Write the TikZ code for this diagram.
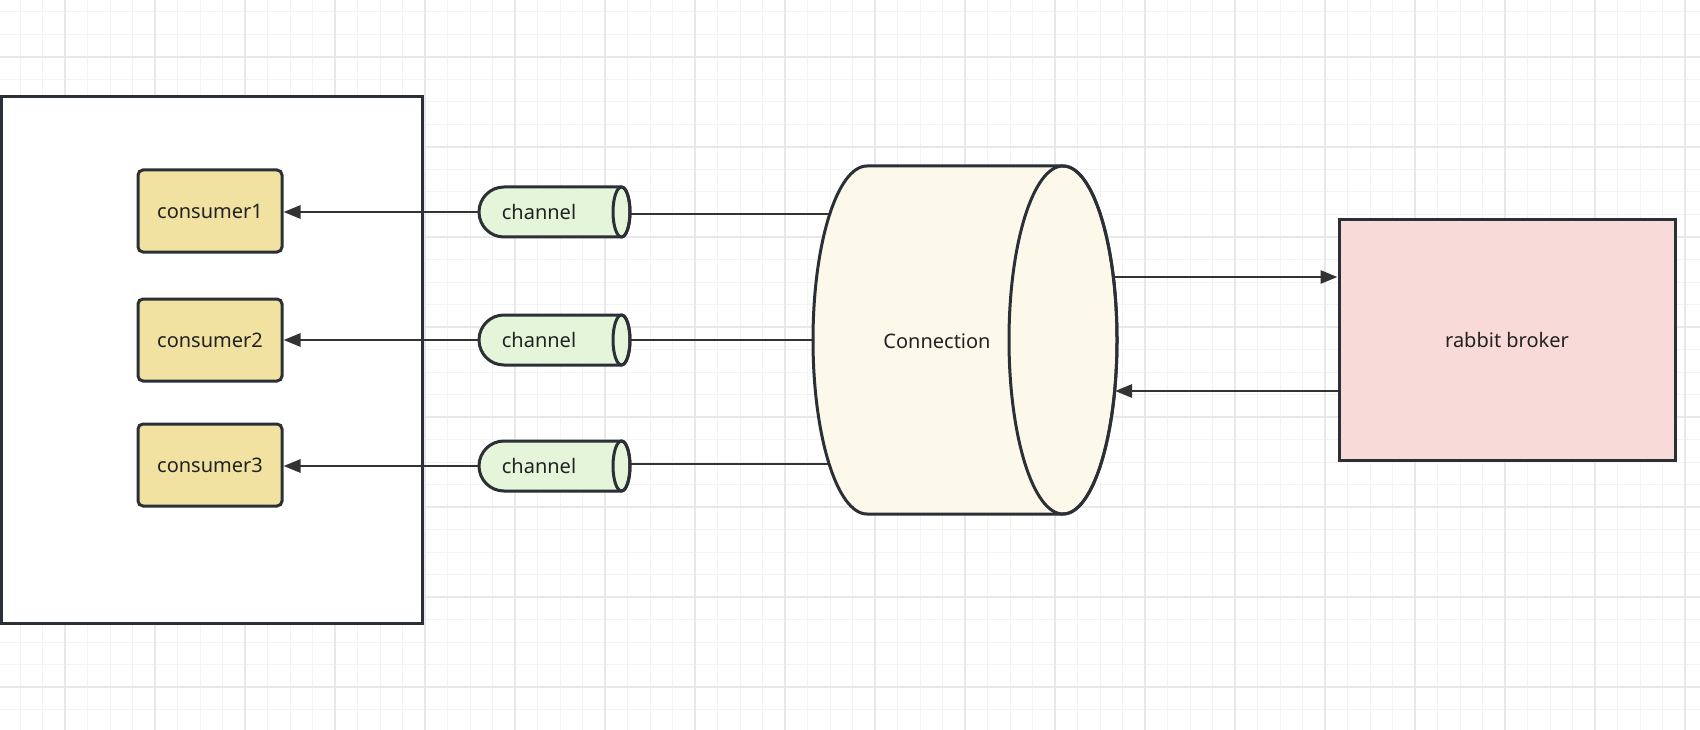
\documentclass[tikz,border=0pt]{standalone}
\usepackage{fontspec}
\setmainfont{Noto Sans}
\usetikzlibrary{arrows.meta,calc}
\pgfdeclarelayer{gridlayer}
\pgfdeclarelayer{backlayer}
\pgfsetlayers{gridlayer,backlayer,main}
\definecolor{edge}{HTML}{2B3036}
\definecolor{wire}{HTML}{333333}
\definecolor{consfill}{HTML}{F1E2A1}
\definecolor{chanfill}{HTML}{E4F5DA}
\definecolor{connfill}{HTML}{FCF8EA}
\definecolor{brokfill}{HTML}{F8DAD9}
\definecolor{gridminor}{HTML}{F3F3F3}
\definecolor{gridmajor}{HTML}{E8E8E8}
\definecolor{txt}{HTML}{222222}
\begin{document}
\begin{tikzpicture}[x=1pt,y=-1pt,
  every node/.style={font=\fontsize{20}{24}\selectfont, text=txt},
  border/.style={draw=edge, line width=3pt},
  groupbox/.style={border, fill=white, minimum width=421pt, minimum height=526pt, inner sep=0pt},
  consumer/.style={border, fill=consfill, rounded corners=5pt, minimum width=144pt, minimum height=82pt, inner sep=0pt},
  broker/.style={border, fill=brokfill, minimum width=336pt, minimum height=240pt, inner sep=0pt},
  wirearrow/.style={draw=wire, line width=2.8pt, -{Triangle[length=17pt,width=13pt]}},
  wireline/.style={draw=wire, line width=2.8pt},
  ]
\useasboundingbox (0,0) rectangle (1700,730);
\begin{pgfonlayer}{gridlayer}
  \fill[white] (0,0) rectangle (1700,730);
  \foreach \x in {20,42.5,...,1700} \draw[gridminor, line width=1pt] (\x,0) -- (\x,730);
  \foreach \y in {12,34.5,...,730} \draw[gridminor, line width=1pt] (0,\y) -- (1700,\y);
  \foreach \x in {65,155,...,1700} \draw[gridmajor, line width=1.2pt] (\x,0) -- (\x,730);
  \foreach \y in {57,147,...,730} \draw[gridmajor, line width=1.2pt] (0,\y) -- (1700,\y);
\end{pgfonlayer}

% consumer group
\node[groupbox] (group) at (211.5,360) {};
\node[consumer] (c1) at (210,211) {consumer1};
\node[consumer] (c2) at (210,340) {consumer2};
\node[consumer] (c3) at (210,465) {consumer3};

% channels
\foreach \i/\y/\r in {1/212/214,2/340/340,3/466/464} {
  \path[border, fill=chanfill] (504,\y-25) -- (621.5,\y-25)
     arc[start angle=-90, end angle=90, x radius=8.5, y radius=25]
     -- (504,\y+25)
     arc[start angle=90, end angle=270, radius=25] -- cycle;
  \draw[border] (621.5,\y) ellipse [x radius=8.5, y radius=25];
  \node (ch\i) at (539,\y) {channel};
  \coordinate (ch\i-l) at (479,\y);
  \coordinate (ch\i-r) at (630,\r);
}

% connection cylinder
\path[border, fill=connfill] (867,166) -- (1063,166)
   arc[start angle=-90, end angle=90, x radius=54, y radius=174]
   -- (867,514)
   arc[start angle=90, end angle=270, x radius=54, y radius=174] -- cycle;
\draw[border] (1063,340) ellipse [x radius=54, y radius=174];
\node (conn) at (937,341) {Connection};
\coordinate (conn-out) at (1113,277);
\coordinate (conn-in) at (1115,391);

% broker
\node[broker] (broker) at (1507,340) {rabbit broker};

% connectors
\foreach \i in {1,2,3} {
  \draw[wirearrow] (ch\i-l) -- (ch\i-l -| c\i.east);
}
\begin{pgfonlayer}{backlayer}
  \foreach \i in {1,2,3} {
    \draw[wireline] (ch\i-r) -- (ch\i-r -| conn.center);
  }
\end{pgfonlayer}
\draw[wirearrow] (conn-out) -- (conn-out -| broker.west);
\draw[wirearrow] (broker.west |- conn-in) -- (conn-in);
\end{tikzpicture}
\end{document}
